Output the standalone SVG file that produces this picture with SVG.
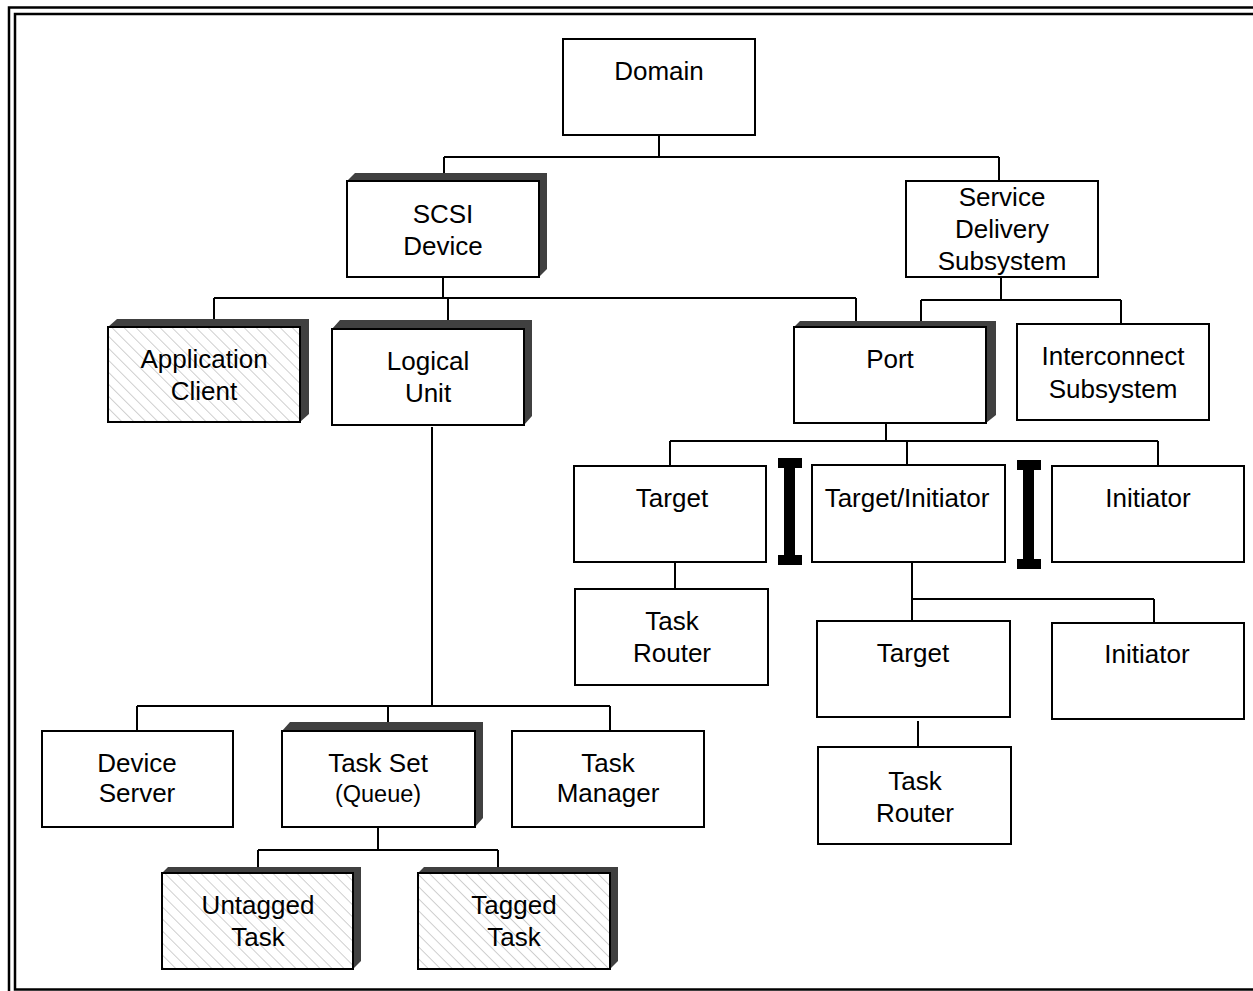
<svg xmlns="http://www.w3.org/2000/svg" width="1253" height="991" viewBox="0 0 1253 991">
<style>
.box{fill:#fff;stroke:#000;stroke-width:2}
.hbox{fill:url(#hatch);stroke:#000;stroke-width:2}
.sh{fill:#404040}
.t{font-family:"Liberation Sans",Arial,sans-serif;font-size:26px;text-anchor:middle;fill:#000}
.s{font-size:23.5px}
.c{fill:none;stroke:#000;stroke-width:2}
.frame{fill:none;stroke:#000;stroke-width:2.5}
</style>
<defs>
<pattern id="hatch" patternUnits="userSpaceOnUse" width="8.5" height="8.5" patternTransform="rotate(-45)">
<rect width="8.5" height="8.5" fill="#fff"/>
<line x1="0" y1="0" x2="0" y2="8.5" stroke="#a0a0a0" stroke-width="1"/>
</pattern>
</defs>
<g id="frame">
<path class="frame" d="M1260,7.5 H9 V1000"/>
<path class="frame" d="M1260,14 H15 V989.5 H1260"/>
</g>
<g id="connectors">
<path class="c" d="M659,135 V157 M444,157 H999 M444,157 V175 M999,157 V181"/>
<path class="c" d="M443,277 V298 M214,298 H856 M214,298 V320 M448,298 V322 M856,298 V322"/>
<path class="c" d="M1001,277 V300 M921,300 H1121 M921,300 V322 M1121,300 V324"/>
<path class="c" d="M886,423 V441 M670,441 H1158 M670,441 V466 M907,441 V465 M1158,441 V466"/>
<path class="c" d="M675,562 V589"/>
<path class="c" d="M912,562 V599 M912,599 H1154 M912,599 V621 M1154,599 V623"/>
<path class="c" d="M918,721 V748"/>
<path class="c" d="M432,427 V706 M137,706 H610 M137,706 V731 M388,706 V723 M610,706 V731"/>
<path class="c" d="M378,827 V850 M258,850 H498 M258,850 V867 M498,850 V867"/>
</g>
<g id="ibeam1"><path d="M778,458 H802 V468 H795 V555 H802 V565 H778 V555 H784 V468 H778 Z" fill="#000"/></g>
<g id="ibeam2"><path d="M1017,460 H1041 V470 H1034 V559 H1041 V569 H1017 V559 H1023 V470 H1017 Z" fill="#000"/></g>
<g id="domain"><rect class="box" x="563" y="39" width="192" height="96"/><text class="t" x="659" y="80">Domain</text></g>
<g id="scsi-device">
<polygon class="sh" points="347,181 355,173 547,173 547,269 539,277 539,181"/>
<rect class="box" x="347" y="181" width="192" height="96"/>
<text class="t" x="443" y="223">SCSI</text><text class="t" x="443" y="255">Device</text></g>
<g id="service-delivery-subsystem"><rect class="box" x="906" y="181" width="192" height="96"/>
<text class="t" x="1002" y="206">Service</text><text class="t" x="1002" y="238">Delivery</text><text class="t" x="1002" y="270">Subsystem</text></g>
<g id="application-client">
<polygon class="sh" points="108,327 117,319 309,319 309,414 300,422 300,327"/>
<rect class="hbox" x="108" y="327" width="192" height="95"/>
<text class="t" x="204" y="368">Application</text><text class="t" x="204" y="400">Client</text></g>
<g id="logical-unit">
<polygon class="sh" points="332,329 340,320 532,320 532,416 524,425 524,329"/>
<rect class="box" x="332" y="329" width="192" height="96"/>
<text class="t" x="428" y="370">Logical</text><text class="t" x="428" y="402">Unit</text></g>
<g id="port">
<polygon class="sh" points="794,327 800,321 996,321 996,415 986,423 986,327"/>
<rect class="box" x="794" y="327" width="192" height="96"/>
<text class="t" x="890" y="368">Port</text></g>
<g id="interconnect-subsystem"><rect class="box" x="1017" y="324" width="192" height="96"/>
<text class="t" x="1113" y="365">Interconnect</text><text class="t" x="1113" y="398">Subsystem</text></g>
<g id="target-1"><rect class="box" x="574" y="466" width="192" height="96"/><text class="t" x="672" y="507">Target</text></g>
<g id="target-initiator"><rect class="box" x="812" y="465" width="193" height="97"/><text class="t" x="907" y="507">Target/Initiator</text></g>
<g id="initiator-1"><rect class="box" x="1052" y="466" width="192" height="96"/><text class="t" x="1148" y="507">Initiator</text></g>
<g id="task-router-1"><rect class="box" x="575" y="589" width="193" height="96"/>
<text class="t" x="672" y="630">Task</text><text class="t" x="672" y="662">Router</text></g>
<g id="target-2"><rect class="box" x="817" y="621" width="193" height="96"/><text class="t" x="913" y="662">Target</text></g>
<g id="initiator-2"><rect class="box" x="1052" y="623" width="192" height="96"/><text class="t" x="1147" y="663">Initiator</text></g>
<g id="task-router-2"><rect class="box" x="818" y="747" width="193" height="97"/>
<text class="t" x="915" y="790">Task</text><text class="t" x="915" y="822">Router</text></g>
<g id="device-server"><rect class="box" x="42" y="731" width="191" height="96"/>
<text class="t" x="137" y="772">Device</text><text class="t" x="137" y="802">Server</text></g>
<g id="task-set">
<polygon class="sh" points="282,731 290,722 483,722 483,818 475,827 475,731"/>
<rect class="box" x="282" y="731" width="193" height="96"/>
<text class="t" x="378" y="772">Task Set</text><text class="t s" x="378" y="802">(Queue)</text></g>
<g id="task-manager"><rect class="box" x="512" y="731" width="192" height="96"/>
<text class="t" x="608" y="772">Task</text><text class="t" x="608" y="802">Manager</text></g>
<g id="untagged-task">
<polygon class="sh" points="162,873 168,867 361,867 361,961 353,969 353,873"/>
<rect class="hbox" x="162" y="873" width="191" height="96"/>
<text class="t" x="258" y="914">Untagged</text><text class="t" x="258" y="946">Task</text></g>
<g id="tagged-task">
<polygon class="sh" points="418,873 424,867 618,867 618,961 610,969 610,873"/>
<rect class="hbox" x="418" y="873" width="192" height="96"/>
<text class="t" x="514" y="914">Tagged</text><text class="t" x="514" y="946">Task</text></g>
</svg>
